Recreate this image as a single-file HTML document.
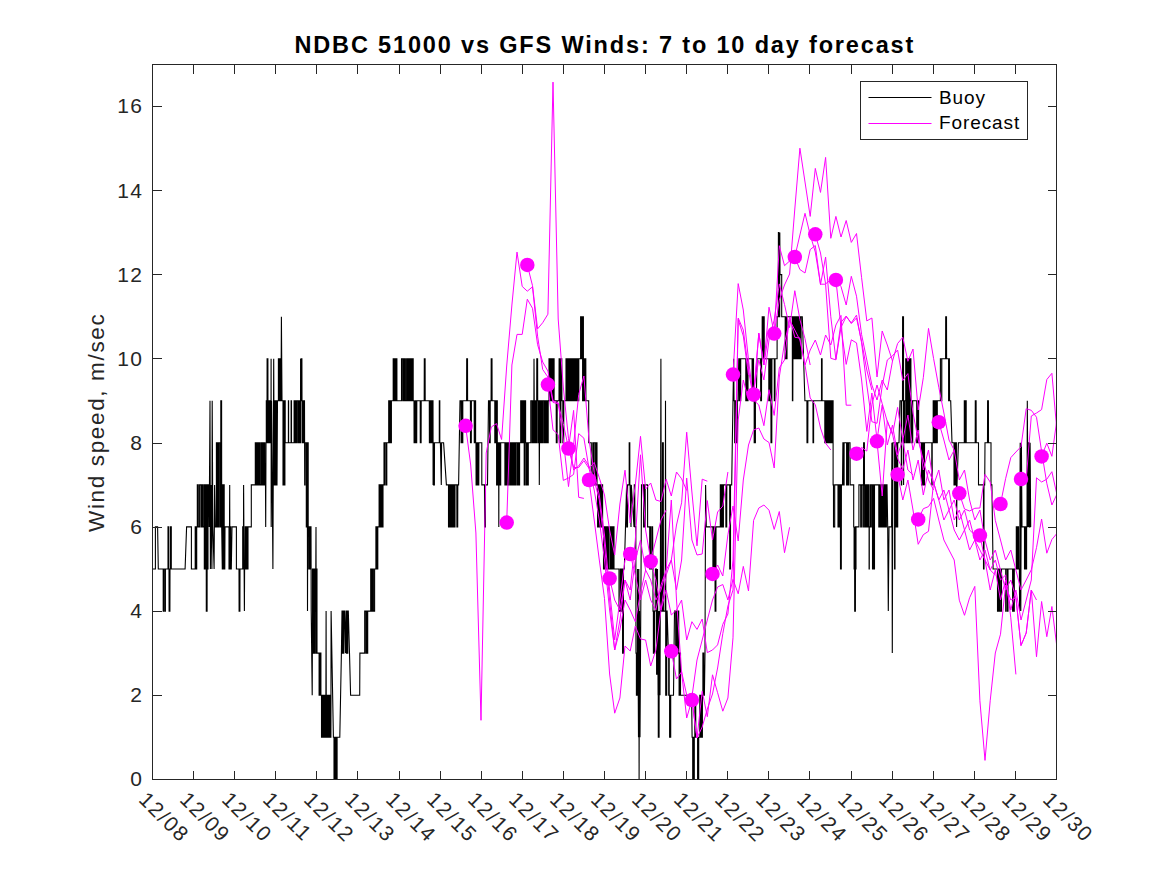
<!DOCTYPE html>
<html><head><meta charset="utf-8"><title>NDBC 51000 vs GFS Winds</title>
<style>
html,body{margin:0;padding:0;background:#fff;}
body{width:1167px;height:875px;overflow:hidden;position:relative;font-family:"Liberation Sans",sans-serif;color:#262626;}
svg{position:absolute;left:0;top:0;}
.t{position:absolute;white-space:nowrap;line-height:1;}
.title{font-weight:bold;font-size:23.5px;left:294.5px;top:34px;letter-spacing:1.84px;color:#000;}
.yt{font-size:21px;text-align:right;width:60px;left:83.3px;letter-spacing:1.3px;}
.xt{font-size:21px;transform-origin:0 50%;transform:rotate(45deg);letter-spacing:1.65px;}
.yl{font-size:22.5px;transform-origin:0 0;transform:rotate(-90deg);letter-spacing:1.65px;}
.lg{font-size:19px;letter-spacing:0.9px;color:#000;}
</style></head><body>

<svg width="1167" height="875" viewBox="0 0 1167 875">
<rect x="0" y="0" width="1167" height="875" fill="#fff"/>
<defs><clipPath id="c"><rect x="152.5" y="64.5" width="904.0" height="715.0"/></clipPath></defs>
<g clip-path="url(#c)" fill="none" stroke-linejoin="miter" stroke-miterlimit="3">
<polyline points="152.7,569.0 155.4,569.0 155.4,526.9 157.6,526.9 158.3,569.0 162.5,569.0 162.5,569.0 163.2,569.0 163.2,611.1 163.8,611.1 163.8,569.0 165.0,569.0 165.0,611.1 165.4,611.1 165.4,569.0 166.5,569.0 167.3,569.0 167.3,569.0 168.0,569.0 168.0,526.9 168.5,526.9 168.5,569.0 169.0,569.0 169.1,611.1 169.9,611.1 170.0,569.0 170.2,569.0 170.2,526.9 171.3,526.9 171.3,569.0 172.0,569.0 172.0,569.0 185.1,569.0 186.6,526.9 191.4,526.9 191.4,569.0 194.8,569.0 194.8,569.0 195.2,569.0 195.2,526.9 196.0,526.9 196.0,569.0 196.7,569.0 196.7,526.9 196.7,526.9 197.3,526.9 197.3,484.9 198.3,484.9 198.3,526.9 199.6,526.9 199.6,484.9 201.0,484.9 201.0,526.9 201.4,526.9 201.4,484.9 202.5,484.9 202.5,526.9 203.7,526.9 203.7,484.9 204.3,484.9 204.3,569.0 205.0,569.0 205.0,484.9 205.4,484.9 205.4,569.0 205.9,569.0 205.9,484.9 206.2,484.9 206.3,611.1 207.1,611.1 207.2,484.9 207.9,484.9 207.9,569.0 208.0,569.0 208.0,484.9 208.9,484.9 209.2,526.9 210.0,400.8 210.4,569.0 211.0,484.9 211.9,569.0 212.2,400.8 212.8,526.9 214.1,569.0 214.6,484.9 215.3,526.9 216.4,526.9 216.4,442.8 216.8,442.8 216.8,526.9 217.5,526.9 217.5,442.8 218.3,442.8 218.3,526.9 219.2,526.9 219.2,442.8 220.4,442.8 220.4,526.9 220.7,526.9 220.8,400.8 221.6,400.8 221.7,526.9 222.3,569.0 222.7,569.0 222.7,484.9 223.3,484.9 223.3,569.0 223.9,569.0 223.9,484.9 224.2,484.9 224.2,569.0 224.8,569.0 225.0,526.9 228.7,526.9 228.7,526.9 229.0,526.9 229.0,569.0 229.1,569.0 229.1,526.9 229.5,526.9 229.7,484.9 229.9,569.0 230.2,569.0 230.2,526.9 230.7,526.9 230.7,569.0 231.3,569.0 232.0,526.9 236.4,526.9 236.4,569.0 239.0,569.0 239.1,611.1 239.9,611.1 240.0,569.0 242.3,569.0 242.3,569.0 242.7,569.0 242.7,526.9 243.0,526.9 243.0,569.0 243.4,569.0 243.6,484.9 244.4,611.1 244.6,569.0 245.2,569.0 245.2,526.9 246.0,526.9 246.0,569.0 246.6,569.0 246.6,526.9 247.2,526.9 247.2,569.0 248.0,569.0 248.0,526.9 251.3,526.9 251.3,484.9 254.4,484.9 254.4,484.9 255.3,484.9 255.3,442.8 256.0,442.8 256.0,484.9 256.4,484.9 256.4,442.8 257.4,442.8 257.4,484.9 258.1,484.9 258.1,442.8 259.1,442.8 259.1,484.9 259.7,484.9 259.7,442.8 260.2,442.8 260.2,484.9 261.4,484.9 261.4,442.8 261.5,442.8 261.5,484.9 262.5,484.9 262.5,442.8 263.5,442.8 263.5,484.9 263.8,484.9 263.8,442.8 264.8,442.8 264.8,484.9 265.5,484.9 265.7,526.9 266.0,442.8 266.3,442.8 266.3,400.8 266.9,400.8 266.9,442.8 267.0,442.8 267.1,358.7 267.9,358.7 268.0,442.8 268.5,442.8 268.5,400.8 269.1,400.8 269.1,442.8 269.9,442.8 269.9,400.8 270.2,400.8 270.2,442.8 271.0,442.8 271.1,358.7 271.2,526.9 271.6,400.8 272.9,569.0 273.7,358.7 274.2,484.9 274.2,484.9 274.9,484.9 274.9,400.8 275.4,400.8 275.4,484.9 275.9,484.9 275.9,400.8 276.4,400.8 276.4,484.9 277.0,484.9 277.5,400.8 278.4,400.8 278.4,358.7 279.2,358.7 279.2,400.8 279.6,400.8 279.6,358.7 280.4,358.7 280.4,400.8 281.0,400.8 281.4,316.7 282.0,400.8 282.7,400.8 283.0,400.8 283.0,484.9 283.8,484.9 283.8,400.8 284.3,400.8 284.3,484.9 284.9,484.9 284.9,400.8 285.2,400.8 285.2,442.8 287.8,442.8 287.8,442.8 288.4,442.8 288.4,400.8 288.6,400.8 288.6,442.8 289.1,442.8 289.6,442.8 290.9,442.8 291.1,442.8 291.1,400.8 291.5,400.8 291.5,442.8 291.7,442.8 291.7,442.8 293.7,442.8 293.7,442.8 294.1,442.8 294.1,400.8 295.2,400.8 295.2,442.8 295.7,442.8 295.7,400.8 296.5,400.8 296.5,442.8 297.2,442.8 297.2,400.8 298.4,400.8 298.4,442.8 298.7,442.8 298.7,400.8 299.6,400.8 299.6,442.8 300.5,442.8 300.6,358.7 300.7,400.8 301.0,400.8 301.1,358.7 301.9,358.7 302.0,400.8 302.1,400.8 302.1,442.8 303.0,442.8 303.0,400.8 303.1,400.8 303.1,442.8 303.9,442.8 303.9,400.8 304.5,400.8 304.6,442.8 304.7,484.9 305.0,484.9 305.1,442.8 305.8,442.8 305.8,442.8 306.3,442.8 306.3,526.9 307.0,526.9 307.0,442.8 307.3,442.8 307.5,611.1 307.7,526.9 308.0,526.9 308.0,442.8 308.2,442.8 308.2,526.9 308.4,526.9 308.4,526.9 308.8,526.9 308.8,569.0 309.4,569.0 309.4,526.9 309.9,526.9 309.9,569.0 310.7,569.0 310.7,526.9 311.0,526.9 311.2,611.1 311.7,653.1 312.2,695.2 312.5,611.1 312.5,569.0 313.4,569.0 313.4,653.1 313.6,653.1 313.6,569.0 314.3,569.0 314.3,653.1 315.0,653.1 315.0,569.0 315.8,569.0 316.0,526.9 316.2,653.1 316.5,653.1 316.5,569.0 317.0,569.0 317.0,653.1 317.4,653.1 317.6,653.1 318.6,653.1 319.1,653.1 319.1,695.2 319.4,695.2 319.4,653.1 319.8,653.1 319.8,695.2 320.4,695.2 320.4,653.1 320.9,653.1 320.9,695.2 321.5,695.2 321.5,737.2 322.4,737.2 322.4,695.2 323.3,695.2 323.3,737.2 323.9,737.2 323.9,695.2 324.5,695.2 324.5,737.2 325.3,737.2 325.3,695.2 325.9,695.2 326.1,611.1 326.3,737.2 327.1,737.2 327.1,695.2 327.4,695.2 327.4,737.2 328.5,737.2 328.5,695.2 329.1,695.2 329.1,737.2 329.8,737.2 329.8,695.2 330.4,695.2 330.4,737.2 330.9,737.2 331.1,611.1 333.4,737.2 333.4,737.2 334.0,737.2 334.0,779.3 334.7,779.3 334.7,737.2 335.1,737.2 335.1,779.3 336.1,779.3 336.1,737.2 336.4,737.2 336.4,779.3 337.1,779.3 337.1,737.2 338.0,737.2 339.8,737.2 341.4,653.1 342.0,611.1 342.0,611.1 342.4,611.1 342.4,653.1 342.8,653.1 342.8,611.1 343.4,611.1 343.4,653.1 343.8,653.1 343.8,611.1 344.5,611.1 345.5,653.1 346.0,611.1 346.3,611.1 346.3,653.1 346.8,653.1 346.8,611.1 347.2,611.1 347.2,653.1 347.8,653.1 347.8,611.1 348.3,611.1 349.5,653.1 350.6,695.2 359.7,695.2 359.9,653.1 364.3,653.1 364.3,653.1 364.7,653.1 364.7,611.1 365.9,611.1 365.9,653.1 366.4,653.1 366.4,611.1 366.8,611.1 366.8,653.1 367.7,653.1 367.7,611.1 370.0,611.1 370.0,611.1 370.7,611.1 370.7,569.0 371.7,569.0 371.7,611.1 372.6,611.1 372.6,569.0 373.4,569.0 373.4,611.1 374.6,611.1 374.6,569.0 375.2,569.0 375.2,569.0 375.9,569.0 375.9,526.9 376.5,526.9 376.5,569.0 376.7,569.0 376.7,526.9 377.3,526.9 377.3,569.0 377.8,569.0 377.8,526.9 378.5,526.9 378.5,526.9 379.1,526.9 379.1,484.9 380.0,484.9 380.0,526.9 381.1,526.9 381.1,484.9 381.9,484.9 381.9,526.9 383.0,526.9 383.0,484.9 383.0,484.9 384.0,484.9 384.0,442.8 384.3,442.8 384.3,484.9 385.0,484.9 385.0,442.8 386.3,442.8 386.3,484.9 386.8,484.9 386.8,442.8 388.0,442.8 388.0,442.8 388.7,442.8 388.7,400.8 389.1,400.8 389.1,442.8 390.1,442.8 390.1,400.8 390.4,400.8 390.4,442.8 391.4,442.8 391.4,400.8 392.4,400.8 392.4,400.8 393.2,400.8 393.2,358.7 394.3,358.7 394.3,400.8 395.0,400.8 395.0,358.7 395.6,358.7 395.6,400.8 396.1,400.8 396.1,358.7 396.9,358.7 396.9,400.8 397.8,400.8 397.8,400.8 400.9,400.8 400.9,400.8 401.5,400.8 401.5,358.7 402.7,358.7 402.7,400.8 403.3,400.8 403.3,358.7 404.3,358.7 404.3,400.8 404.7,400.8 404.7,358.7 405.4,358.7 405.4,400.8 406.6,400.8 406.6,358.7 407.5,358.7 407.5,400.8 408.2,400.8 408.2,358.7 409.0,358.7 409.0,400.8 409.8,400.8 409.8,358.7 410.5,358.7 410.5,400.8 411.0,400.8 411.0,358.7 411.9,358.7 411.9,400.8 412.6,400.8 412.6,358.7 413.2,358.7 413.2,400.8 414.3,400.8 414.3,400.8 414.0,400.8 414.1,442.8 414.9,442.8 415.0,400.8 415.8,400.8 415.9,442.8 416.7,442.8 416.8,400.8 420.2,400.8 420.3,442.8 421.1,442.8 421.2,400.8 424.2,400.8 424.3,358.7 425.1,358.7 425.2,400.8 429.3,400.8 429.4,442.8 430.2,442.8 430.3,400.8 431.2,400.8 431.3,442.8 432.1,442.8 432.2,400.8 433.0,400.8 433.1,484.9 433.2,442.8 433.5,442.8 433.6,484.9 434.4,484.9 434.5,442.8 439.0,442.8 439.0,442.8 439.3,442.8 439.3,400.8 439.8,400.8 439.8,442.8 440.4,442.8 441.3,484.9 441.6,442.8 443.6,442.8 446.4,484.9 448.0,484.9 448.0,484.9 448.5,484.9 448.5,526.9 449.3,526.9 449.3,484.9 450.0,484.9 450.0,526.9 450.4,526.9 450.4,484.9 451.2,484.9 451.2,526.9 451.9,526.9 451.9,484.9 452.4,484.9 452.4,526.9 452.7,526.9 452.7,484.9 453.2,484.9 453.2,526.9 453.9,526.9 453.9,484.9 454.4,484.9 454.4,526.9 455.0,526.9 455.0,484.9 455.8,484.9 456.8,484.9 456.9,526.9 457.7,526.9 457.8,484.9 458.6,484.9 459.3,442.8 460.0,400.8 460.5,400.8 461.1,400.8 461.1,442.8 461.9,442.8 461.9,400.8 462.4,400.8 462.4,442.8 462.8,442.8 462.8,400.8 463.4,400.8 466.6,400.8 466.7,358.7 467.5,358.7 467.6,400.8 470.4,400.8 470.5,442.8 471.3,442.8 471.4,400.8 474.2,400.8 474.3,442.8 475.1,442.8 475.2,400.8 475.6,400.8 475.6,442.8 476.0,442.8 476.1,484.9 476.9,484.9 477.0,442.8 477.9,442.8 478.0,484.9 478.8,484.9 478.9,442.8 481.8,442.8 481.8,484.9 484.5,484.9 484.6,526.9 485.4,526.9 485.5,484.9 487.5,484.9 488.0,442.8 488.5,400.8 488.8,400.8 489.5,400.8 489.5,442.8 490.2,442.8 490.2,400.8 490.7,400.8 491.1,400.8 491.2,358.7 492.0,358.7 492.1,400.8 494.5,400.8 494.5,400.8 494.8,400.8 494.8,442.8 495.6,442.8 495.6,400.8 496.0,400.8 496.0,400.8 496.6,400.8 496.6,484.9 497.0,484.9 497.0,400.8 497.3,400.8 497.3,442.8 497.3,442.8 497.8,442.8 497.8,484.9 498.1,484.9 498.1,442.8 498.5,442.8 498.6,442.8 498.8,526.9 499.0,442.8 499.0,442.8 499.3,442.8 499.3,484.9 499.9,484.9 499.9,442.8 500.1,442.8 500.1,484.9 500.7,484.9 500.7,442.8 501.0,442.8 503.9,442.8 503.9,442.8 504.9,442.8 504.9,484.9 505.2,484.9 505.2,442.8 505.9,442.8 505.9,484.9 507.0,484.9 507.0,442.8 507.5,442.8 507.5,484.9 507.9,484.9 507.9,442.8 508.6,442.8 508.6,484.9 509.3,484.9 509.3,442.8 510.5,442.8 510.5,484.9 511.1,484.9 511.1,442.8 511.4,442.8 511.4,484.9 512.5,484.9 512.5,442.8 513.3,442.8 513.3,484.9 513.8,484.9 513.8,442.8 514.3,442.8 514.3,484.9 515.1,484.9 515.1,442.8 515.6,442.8 515.6,484.9 516.2,484.9 516.2,442.8 517.5,442.8 517.5,484.9 518.0,484.9 518.0,442.8 518.6,442.8 518.6,484.9 519.6,484.9 519.6,442.8 520.0,442.8 520.0,442.8 520.7,442.8 520.7,400.8 521.7,400.8 521.7,442.8 522.4,442.8 522.4,400.8 522.8,400.8 522.8,442.8 523.7,442.8 523.7,400.8 524.2,400.8 524.2,484.9 524.8,484.9 524.8,400.8 525.6,400.8 525.6,442.8 526.1,442.8 526.1,484.9 527.0,484.9 527.0,442.8 527.5,442.8 527.5,484.9 528.3,484.9 528.3,442.8 529.0,442.8 530.3,442.8 530.3,442.8 530.8,442.8 530.8,400.8 532.0,400.8 532.0,442.8 532.3,442.8 532.3,400.8 533.1,400.8 533.1,442.8 533.8,442.8 534.0,358.7 534.2,400.8 534.8,400.8 534.8,442.8 535.5,442.8 535.5,400.8 535.8,400.8 535.8,442.8 536.7,442.8 536.7,400.8 536.7,400.8 536.8,358.7 537.6,358.7 537.7,400.8 538.0,400.8 538.0,442.8 538.5,442.8 538.5,400.8 539.1,400.8 539.3,484.9 539.5,442.8 540.2,442.8 540.2,400.8 540.5,400.8 540.5,442.8 541.5,442.8 541.5,400.8 542.0,400.8 542.0,442.8 542.5,442.8 542.5,400.8 543.7,400.8 543.7,442.8 544.0,442.8 544.0,400.8 544.8,400.8 544.8,442.8 545.7,442.8 545.7,400.8 546.2,400.8 546.2,442.8 546.8,442.8 546.8,400.8 547.5,400.8 547.5,442.8 548.2,442.8 548.2,400.8 549.0,400.8 549.0,358.7 549.9,358.7 549.9,400.8 550.1,400.8 550.1,358.7 551.2,358.7 551.2,400.8 551.7,400.8 551.7,358.7 552.5,358.7 552.5,400.8 553.5,400.8 553.5,358.7 554.1,358.7 554.1,400.8 554.8,400.8 554.8,400.8 556.2,400.8 556.3,442.8 557.1,442.8 557.2,400.8 559.0,400.8 559.1,358.7 559.9,358.7 560.0,400.8 559.9,400.8 560.0,442.8 560.8,442.8 560.9,400.8 560.9,400.8 561.0,358.7 561.8,358.7 561.9,400.8 562.8,400.8 562.9,442.8 563.7,442.8 563.8,400.8 566.0,400.8 566.0,358.7 566.5,358.7 566.5,400.8 567.1,400.8 567.1,358.7 567.6,358.7 567.6,400.8 567.9,400.8 567.9,358.7 568.4,358.7 568.4,400.8 568.8,400.8 568.8,358.7 569.3,358.7 569.7,358.7 569.8,400.8 570.6,400.8 570.7,358.7 571.0,358.7 571.5,358.7 571.5,400.8 572.1,400.8 572.1,358.7 572.4,358.7 572.4,400.8 573.0,400.8 573.0,358.7 573.4,358.7 573.4,400.8 574.1,400.8 574.1,358.7 574.5,358.7 574.5,400.8 575.1,400.8 575.1,358.7 575.6,358.7 575.6,400.8 575.8,400.8 575.8,358.7 576.4,358.7 576.4,400.8 577.1,400.8 577.1,358.7 577.5,358.7 577.5,400.8 577.7,400.8 577.7,358.7 578.2,358.7 578.2,400.8 578.8,400.8 578.8,358.7 579.3,358.7 580.3,358.7 580.3,358.7 580.6,358.7 580.6,316.7 581.2,316.7 581.2,358.7 581.6,358.7 581.6,316.7 582.3,316.7 582.3,358.7 582.9,358.7 582.9,316.7 583.4,316.7 583.4,358.7 583.7,358.7 582.2,358.7 582.6,358.7 582.6,400.8 583.3,400.8 583.3,358.7 583.8,358.7 583.8,400.8 584.1,400.8 584.1,358.7 584.9,358.7 584.9,400.8 585.5,400.8 585.5,358.7 585.8,358.7 585.9,400.8 588.7,400.8 588.7,442.8 590.6,442.8 590.6,442.8 591.3,442.8 591.3,484.9 592.8,484.9 592.8,442.8 593.3,442.8 593.3,484.9 594.2,484.9 594.2,442.8 595.6,442.8 595.6,484.9 596.4,484.9 596.4,442.8 597.0,442.8 597.0,484.9 597.6,484.9 597.6,526.9 598.6,526.9 598.6,484.9 599.4,484.9 599.4,526.9 600.1,526.9 600.1,484.9 600.8,484.9 600.8,526.9 601.7,526.9 601.7,484.9 602.6,484.9 602.6,526.9 603.5,526.9 603.5,569.0 603.8,569.0 603.8,526.9 604.9,526.9 604.9,569.0 605.6,569.0 605.6,526.9 606.1,526.9 606.1,569.0 607.0,569.0 607.0,526.9 608.0,526.9 608.0,569.0 608.7,569.0 608.7,526.9 609.1,526.9 609.1,569.0 610.5,569.0 610.5,526.9 611.2,526.9 611.2,569.0 612.0,569.0 612.0,526.9 612.2,526.9 612.2,569.0 613.1,569.0 613.1,526.9 614.0,526.9 614.0,569.0 618.6,569.0 618.6,569.0 619.0,569.0 619.0,611.1 620.3,611.1 620.3,569.0 620.7,569.0 620.7,611.1 621.4,611.1 621.4,569.0 622.5,569.0 622.6,653.1 623.4,653.1 623.5,569.0 624.3,569.0 625.5,526.9 626.6,484.9 626.7,526.9 627.5,526.9 627.6,484.9 628.8,484.9 629.2,484.9 629.2,442.8 629.8,442.8 629.8,484.9 630.1,484.9 631.0,526.9 631.3,484.9 634.0,526.9 634.3,484.9 634.7,484.9 635.0,526.9 635.8,526.9 636.0,653.1 636.0,653.1 636.4,653.1 636.4,695.2 636.5,695.2 636.5,653.1 636.8,653.1 636.8,695.2 637.2,695.2 637.2,653.1 637.4,653.1 637.6,569.0 638.5,737.2 638.8,569.0 639.1,779.3 639.5,611.1 640.0,737.2 641.3,526.9 641.5,484.9 643.0,484.9 643.6,484.9 643.6,526.9 644.3,526.9 644.3,484.9 644.6,484.9 644.6,526.9 645.2,526.9 645.2,484.9 646.0,484.9 647.6,484.9 647.6,526.9 648.8,526.9 648.8,526.9 649.7,526.9 649.7,569.0 650.3,569.0 650.3,526.9 650.8,526.9 650.8,569.0 652.1,569.0 652.1,526.9 652.6,526.9 653.0,569.0 653.0,611.1 653.0,611.1 653.4,611.1 653.4,653.1 653.9,653.1 653.9,611.1 654.1,611.1 654.1,653.1 654.7,653.1 654.7,611.1 655.0,611.1 655.2,611.1 655.4,569.0 656.5,569.0 656.6,674.2 657.4,674.2 657.5,569.0 658.1,695.2 658.2,611.1 658.3,737.2 659.1,737.2 659.2,611.1 660.0,695.2 660.4,569.0 660.9,358.7 661.4,611.1 662.4,611.1 662.5,442.8 663.3,442.8 663.4,611.1 665.2,611.1 665.5,400.8 665.8,611.1 665.3,611.1 665.7,611.1 665.7,695.2 666.7,695.2 666.7,611.1 667.1,611.1 668.4,653.1 668.4,653.1 668.7,653.1 668.7,695.2 668.9,695.2 668.9,653.1 669.2,653.1 669.2,695.2 669.6,695.2 669.6,737.2 670.2,737.2 670.2,695.2 670.4,695.2 670.4,737.2 670.7,737.2 670.7,695.2 671.3,695.2 672.3,695.2 673.5,695.2 674.5,611.1 674.9,611.1 675.7,611.1 675.7,653.1 676.2,653.1 676.2,611.1 676.9,611.1 676.9,653.1 677.7,653.1 677.7,611.1 678.7,611.1 678.7,653.1 678.7,653.1 679.1,653.1 679.1,695.2 679.7,695.2 679.7,653.1 680.5,653.1 680.5,695.2 691.6,695.2 692.1,737.2 692.3,737.2 692.7,737.2 692.7,779.3 693.2,779.3 693.2,737.2 694.0,737.2 694.0,779.3 694.3,779.3 694.3,737.2 694.8,737.2 694.9,695.2 695.7,695.2 695.8,737.2 697.2,737.2 697.6,737.2 697.6,779.3 697.9,779.3 697.9,737.2 698.4,737.2 698.4,779.3 698.7,779.3 698.7,737.2 699.3,737.2 699.3,737.2 699.8,737.2 699.8,695.2 700.3,695.2 700.3,737.2 701.3,737.2 701.3,695.2 701.8,695.2 701.8,737.2 702.4,737.2 702.4,695.2 702.4,695.2 702.9,695.2 702.9,653.1 703.7,653.1 703.7,695.2 704.4,695.2 705.0,653.1 705.6,484.9 706.3,526.9 712.0,526.9 712.0,526.9 712.9,526.9 712.9,569.0 713.1,569.0 713.1,526.9 714.2,526.9 714.2,569.0 714.6,569.0 714.6,526.9 715.0,526.9 715.1,611.1 715.9,611.1 716.0,526.9 719.5,526.9 719.5,526.9 720.3,526.9 720.3,484.9 721.3,484.9 721.3,526.9 721.8,526.9 721.8,484.9 722.6,484.9 722.6,526.9 723.4,526.9 723.4,484.9 725.8,484.9 725.9,526.9 726.7,526.9 726.8,484.9 729.0,484.9 729.0,484.9 729.7,484.9 729.7,569.0 730.5,569.0 730.5,484.9 730.8,484.9 731.7,484.9 732.3,442.8 733.0,400.8 733.7,358.7 734.0,400.8 734.7,400.8 734.7,442.8 735.8,442.8 735.8,400.8 736.5,400.8 736.5,442.8 737.3,442.8 737.3,400.8 738.0,400.8 738.0,400.8 738.8,358.7 739.3,358.7 739.3,400.8 739.8,400.8 739.8,358.7 740.2,358.7 740.2,400.8 740.7,400.8 740.7,358.7 741.4,358.7 743.0,358.7 745.3,358.7 745.8,358.7 745.8,400.8 746.9,400.8 746.9,358.7 747.4,358.7 747.4,400.8 748.0,400.8 748.0,358.7 749.0,358.7 751.7,358.7 751.7,358.7 752.1,358.7 752.1,400.8 753.1,400.8 753.1,358.7 753.5,358.7 753.5,400.8 754.2,400.8 754.2,442.8 754.6,442.8 754.6,400.8 754.9,400.8 754.9,442.8 755.4,442.8 755.4,400.8 756.0,400.8 756.3,400.8 757.0,358.7 760.6,358.7 760.7,400.8 761.5,400.8 761.6,358.7 762.1,358.7 762.2,316.7 763.0,316.7 763.3,358.7 763.4,316.7 764.2,316.7 764.3,358.7 768.4,358.7 768.4,358.7 768.8,358.7 768.8,400.8 769.4,400.8 769.4,358.7 769.8,358.7 769.8,400.8 770.5,400.8 770.5,358.7 770.9,358.7 771.0,442.8 771.8,442.8 771.9,358.7 774.0,358.7 774.3,358.7 774.3,400.8 775.0,400.8 775.0,358.7 775.3,358.7 777.1,358.7 777.1,316.7 778.3,316.7 778.4,232.5 778.8,232.5 778.9,316.7 779.7,316.7 779.8,232.5 780.0,274.6 781.7,274.6 781.7,316.7 784.3,316.7 784.3,316.7 785.2,316.7 785.2,358.7 785.6,358.7 785.6,316.7 786.0,316.7 786.0,358.7 787.0,358.7 787.0,316.7 787.4,316.7 792.3,316.7 792.4,400.8 792.8,400.8 793.0,316.7 793.0,316.7 793.6,316.7 793.6,358.7 794.3,358.7 794.3,316.7 794.7,316.7 794.7,358.7 795.6,358.7 795.6,316.7 796.4,316.7 796.4,358.7 797.1,358.7 797.1,316.7 797.6,316.7 797.6,358.7 798.4,358.7 798.4,316.7 798.8,316.7 798.8,358.7 799.6,358.7 799.6,316.7 800.2,316.7 800.2,358.7 801.1,358.7 801.1,316.7 801.8,316.7 802.3,316.7 804.9,400.8 806.9,400.8 807.0,442.8 807.8,442.8 807.9,400.8 812.6,400.8 812.6,400.8 813.0,400.8 813.0,442.8 813.6,442.8 813.6,400.8 814.6,400.8 821.0,400.8 821.0,400.8 821.5,400.8 821.5,358.7 822.1,358.7 822.1,400.8 822.9,400.8 824.1,400.8 824.1,400.8 824.8,400.8 824.8,442.8 825.5,442.8 825.5,400.8 826.3,400.8 826.3,442.8 827.0,442.8 827.0,400.8 827.7,400.8 827.7,442.8 828.5,442.8 828.5,400.8 828.9,400.8 828.9,442.8 829.5,442.8 829.5,400.8 830.6,400.8 830.6,442.8 830.8,442.8 830.8,400.8 831.9,400.8 831.9,442.8 832.5,442.8 832.5,400.8 833.1,400.8 833.1,442.8 833.1,484.9 833.1,484.9 833.5,484.9 833.5,526.9 834.7,526.9 834.7,484.9 835.2,484.9 837.0,484.9 837.0,484.9 838.0,484.9 838.0,526.9 838.6,526.9 838.6,484.9 839.4,484.9 839.4,526.9 840.2,526.9 840.2,484.9 840.4,484.9 840.5,569.0 841.3,569.0 841.4,484.9 842.5,484.9 842.9,442.8 842.9,442.8 843.3,442.8 843.3,484.9 844.1,484.9 844.1,442.8 844.7,442.8 845.3,442.8 846.0,442.8 846.6,442.8 846.6,484.9 847.4,484.9 847.4,442.8 848.0,442.8 848.0,484.9 848.6,484.9 848.6,442.8 849.0,442.8 850.0,442.8 850.2,484.9 853.7,484.9 853.7,526.9 854.1,526.9 854.1,569.0 854.6,569.0 854.6,526.9 854.6,526.9 854.7,611.1 855.4,611.1 855.5,526.9 855.6,526.9 855.6,569.0 856.0,569.0 856.0,526.9 856.3,526.9 856.5,526.9 858.9,526.9 858.9,484.9 860.0,484.9 860.7,484.9 860.7,526.9 861.4,526.9 861.4,484.9 862.7,484.9 862.7,484.9 862.9,484.9 862.9,526.9 863.4,526.9 863.4,484.9 863.5,484.9 863.6,442.8 864.4,442.8 864.5,484.9 864.6,484.9 864.6,526.9 865.6,526.9 865.6,484.9 866.1,484.9 866.1,526.9 866.8,526.9 866.8,484.9 867.4,484.9 867.4,526.9 868.1,526.9 868.1,484.9 868.6,484.9 868.6,526.9 869.1,526.9 869.1,569.0 869.3,569.0 869.3,526.9 870.0,526.9 870.0,484.9 870.7,484.9 870.7,526.9 871.3,526.9 871.3,484.9 871.7,484.9 871.7,484.9 872.5,484.9 872.5,569.0 873.3,569.0 873.3,484.9 874.2,484.9 874.2,569.0 874.5,569.0 874.5,484.9 875.6,484.9 878.0,484.9 878.0,484.9 878.8,484.9 878.8,526.9 879.2,526.9 879.2,484.9 879.8,484.9 879.8,526.9 880.6,526.9 880.6,484.9 881.6,484.9 881.6,526.9 882.0,526.9 882.0,484.9 883.0,484.9 883.0,526.9 883.8,526.9 883.8,484.9 884.2,484.9 884.2,526.9 884.8,526.9 884.8,484.9 885.6,484.9 885.6,526.9 886.4,526.9 886.4,484.9 887.0,484.9 887.7,526.9 888.3,611.1 889.0,526.9 891.6,526.9 891.9,442.8 892.3,653.1 892.9,442.8 894.0,442.8 894.6,442.8 894.6,569.0 895.0,569.0 895.0,442.8 895.4,442.8 895.4,442.8 896.1,442.8 896.1,526.9 896.4,526.9 896.4,442.8 897.1,442.8 897.1,526.9 897.7,526.9 897.7,442.8 898.5,442.8 899.0,442.8 900.0,400.8 900.6,400.8 901.3,400.8 901.3,484.9 901.7,484.9 901.7,400.8 902.4,400.8 902.5,400.8 902.6,316.7 903.5,316.7 903.6,484.9 903.8,400.8 904.5,400.8 904.5,442.8 904.8,442.8 904.8,400.8 905.7,400.8 905.7,358.7 906.1,358.7 906.1,442.8 907.0,442.8 907.0,358.7 908.0,358.7 908.0,442.8 908.8,442.8 908.8,358.7 909.5,358.7 909.5,442.8 910.0,442.8 910.0,358.7 910.9,358.7 910.9,400.8 911.4,400.8 911.4,442.8 911.9,442.8 911.9,400.8 912.4,400.8 912.4,442.8 912.7,442.8 912.7,400.8 913.4,400.8 914.0,400.8 916.0,400.8 916.0,400.8 916.7,400.8 916.7,442.8 916.9,442.8 916.9,400.8 917.8,400.8 917.8,442.8 918.3,442.8 918.3,400.8 918.6,400.8 918.6,442.8 921.0,442.8 921.0,442.8 921.5,442.8 921.5,484.9 922.6,484.9 922.6,442.8 923.6,442.8 923.6,484.9 924.5,484.9 924.5,442.8 925.0,442.8 925.0,442.8 931.4,442.8 931.4,442.8 931.8,442.8 931.8,484.9 932.2,484.9 932.2,442.8 932.7,442.8 933.2,442.8 933.2,400.8 933.5,400.8 934.0,400.8 934.0,442.8 935.0,442.8 935.0,400.8 935.2,400.8 935.2,442.8 936.1,442.8 936.1,400.8 936.4,400.8 936.4,442.8 937.3,442.8 937.3,400.8 937.9,400.8 937.9,400.8 940.4,400.8 940.4,358.7 941.0,358.7 941.7,358.7 941.7,400.8 941.8,400.8 941.8,358.7 942.5,358.7 945.6,358.7 945.7,316.7 946.5,316.7 946.6,358.7 948.0,358.7 948.6,358.7 948.6,400.8 948.9,400.8 948.9,358.7 949.4,358.7 949.4,358.7 949.6,400.8 950.7,400.8 952.0,442.8 953.3,442.8 953.3,442.8 954.0,442.8 954.0,484.9 954.4,484.9 954.4,442.8 954.7,442.8 954.7,484.9 955.6,484.9 955.6,442.8 955.9,442.8 956.4,442.8 956.6,526.9 957.0,484.9 958.4,442.8 963.6,442.8 963.6,442.8 964.3,442.8 964.3,400.8 964.6,400.8 964.6,442.8 965.3,442.8 965.3,400.8 966.2,400.8 966.2,442.8 966.9,442.8 975.2,442.8 975.3,400.8 976.1,400.8 976.2,442.8 978.5,442.8 978.5,484.9 982.9,484.9 982.9,484.9 983.5,484.9 983.5,569.0 984.0,569.0 984.0,484.9 984.7,484.9 984.7,484.9 985.0,442.8 987.5,442.8 987.6,400.8 988.4,400.8 988.5,442.8 991.0,442.8 991.0,484.9 991.9,484.9 993.1,569.0 997.0,569.0 997.0,569.0 997.5,569.0 997.5,611.1 998.4,611.1 998.4,569.0 999.1,569.0 999.1,611.1 1000.1,611.1 1000.1,569.0 1000.3,569.0 1000.3,611.1 1001.5,611.1 1001.5,569.0 1002.1,569.0 1004.7,569.0 1004.7,569.0 1005.7,569.0 1005.7,611.1 1006.0,611.1 1006.0,569.0 1007.3,569.0 1007.3,611.1 1008.0,611.1 1008.0,569.0 1008.6,569.0 1011.7,569.0 1011.7,569.0 1012.6,569.0 1012.6,611.1 1012.9,611.1 1012.9,569.0 1013.6,569.0 1013.6,611.1 1014.3,611.1 1014.3,569.0 1015.0,569.0 1015.0,569.0 1015.0,569.0 1016.3,569.0 1016.3,526.9 1016.8,526.9 1016.8,569.0 1017.5,569.0 1017.5,526.9 1018.5,526.9 1018.5,569.0 1019.4,569.0 1019.6,611.1 1020.2,442.8 1020.8,611.1 1021.4,442.8 1022.0,526.9 1024.0,526.9 1024.0,526.9 1024.5,526.9 1024.5,569.0 1025.0,569.0 1025.0,526.9 1025.6,526.9 1025.6,569.0 1026.6,569.0 1026.6,526.9 1027.0,526.9 1027.3,400.8 1028.1,526.9 1028.5,442.8 1029.1,442.8 1029.2,526.9 1030.0,526.9 1030.1,442.8 1030.7,526.9" stroke="#000" stroke-width="1.1"/>
<polyline points="465.6,425.8 470.7,465.0 475.9,533.0 481.0,720.3 486.2,453.0 491.3,427.0 496.5,423.6 501.6,439.5 506.7,366.0 511.9,305.0 517.0,252.1 522.2,286.4 527.3,291.2 532.5,286.8 537.6,336.2 542.7,369.5 547.9,377.0 553.0,402.4 558.2,403.8 563.3,423.6 568.5,448.3 573.6,410.4 578.7,497.3 583.9,498.4" stroke="#f0f" stroke-width="1.0"/>
<polyline points="506.7,522.6 511.9,365.0 517.0,334.4 522.2,334.4 527.3,299.2 532.5,308.3 537.6,344.7 542.7,362.0 547.9,371.0 553.0,400.7 558.2,402.7 563.3,440.0 568.5,486.6 573.6,445.0 578.7,394.5 583.9,376.0 589.0,440.1 594.2,472.7 599.3,495.0 604.5,535.0 609.6,590.0 614.7,640.0 619.9,600.0 625.0,560.0" stroke="#f0f" stroke-width="1.0"/>
<polyline points="527.3,264.9 532.5,285.7 537.6,328.9 542.7,322.7 547.9,314.2 553.0,82.1 558.2,319.0 563.3,387.0 568.5,438.7 573.6,470.0 578.7,466.0 583.9,458.0 589.0,466.0 594.2,480.0 599.3,500.0 604.5,545.0 609.6,600.0 614.7,650.0 619.9,630.0 625.0,600.0 630.2,610.0 635.3,621.7 640.5,593.0 645.6,570.0" stroke="#f0f" stroke-width="1.0"/>
<polyline points="547.9,384.6 553.0,429.8 558.2,434.6 563.3,480.4 568.5,478.0 573.6,474.4 578.7,433.6 583.9,438.2 589.0,468.4 594.2,490.0 599.3,520.0 604.5,560.0 609.6,610.0 614.7,650.0 619.9,620.0 625.0,580.0 630.2,590.0 635.3,540.0 640.5,454.8 645.6,530.0 650.7,560.0 655.9,540.0 661.0,520.0 666.2,510.0" stroke="#f0f" stroke-width="1.0"/>
<polyline points="568.5,448.5 573.6,467.5 578.7,467.5 583.9,460.7 589.0,468.4 594.2,462.4 599.3,477.8 604.5,495.0 609.6,530.0 614.7,555.0 619.9,504.0 625.0,470.2 630.2,523.0 635.3,485.0 640.5,436.3 645.6,489.0 650.7,483.0 655.9,500.0 661.0,501.5 666.2,479.2 671.3,496.0 676.5,472.0 681.6,478.8 686.7,490.5" stroke="#f0f" stroke-width="1.0"/>
<polyline points="589.0,480.0 594.2,520.0 599.3,560.0 604.5,598.6 609.6,674.0 614.7,713.2 619.9,698.0 625.0,646.0 630.2,651.0 635.3,626.0 640.5,639.0 645.6,640.0 650.7,666.0 655.9,650.0 661.0,610.0 666.2,575.0 671.3,560.0 676.5,525.0 681.6,502.8 686.7,432.2 691.9,492.0 697.0,545.8 702.2,479.2 707.3,481.2" stroke="#f0f" stroke-width="1.0"/>
<polyline points="609.6,578.5 614.7,600.0 619.9,610.0 625.0,580.0 630.2,600.0 635.3,560.0 640.5,540.0 645.6,570.0 650.7,580.0 655.9,600.0 661.0,590.0 666.2,570.0 671.3,560.0 676.5,590.0 681.6,560.0 686.7,478.1 691.9,540.0 697.0,555.0 702.2,554.0 707.3,500.6 712.5,540.0 717.6,512.0 722.8,506.0 727.9,472.0" stroke="#f0f" stroke-width="1.0"/>
<polyline points="630.2,554.0 635.3,575.0 640.5,600.0 645.6,580.0 650.7,600.0 655.9,610.0 661.0,585.0 666.2,570.0 671.3,500.0 676.5,600.0 681.6,672.0 686.7,718.0 691.9,700.0 697.0,738.0 702.2,727.0 707.3,709.0 712.5,694.0 717.6,668.0 722.8,633.7 727.9,606.0 733.0,590.0 738.2,319.5 743.3,336.0 748.5,375.0" stroke="#f0f" stroke-width="1.0"/>
<polyline points="650.7,561.5 655.9,580.0 661.0,610.0 666.2,590.0 671.3,615.0 676.5,610.0 681.6,600.0 686.7,640.0 691.9,621.7 697.0,629.4 702.2,619.0 707.3,652.6 712.5,650.0 717.6,644.9 722.8,624.3 727.9,614.0 733.0,560.0 738.2,318.0 743.3,330.0 748.5,370.0 753.6,400.0 758.8,333.2 763.9,365.0 769.0,330.0" stroke="#f0f" stroke-width="1.0"/>
<polyline points="671.3,651.3 676.5,679.0 681.6,671.8 686.7,695.0 691.9,697.0 697.0,660.0 702.2,640.0 707.3,620.0 712.5,600.0 717.6,587.0 722.8,584.5 727.9,600.0 733.0,579.4 738.2,593.8 743.3,566.4 748.5,591.0 753.6,520.4 758.8,508.0 763.9,505.0 769.0,510.2 774.2,529.4 779.3,511.5 784.5,552.7 789.6,527.3" stroke="#f0f" stroke-width="1.0"/>
<polyline points="691.9,700.1 697.0,737.9 702.2,691.3 707.3,716.7 712.5,674.8 717.6,692.7 722.8,711.2 727.9,698.0 733.0,637.8 738.2,420.0 743.3,380.0 748.5,400.0 753.6,390.0 758.8,360.0 763.9,380.0 769.0,340.0 774.2,320.0 779.3,283.9 784.5,304.4 789.6,327.7 794.8,290.7 799.9,319.5 805.0,338.7 810.2,365.0" stroke="#f0f" stroke-width="1.0"/>
<polyline points="712.5,573.9 717.6,565.0 722.8,576.0 727.9,534.8 733.0,506.0 738.2,541.0 743.3,480.0 748.5,445.0 753.6,430.0 758.8,428.0 763.9,439.0 769.0,442.5 774.2,468.0 779.3,377.0 784.5,343.0 789.6,320.0 794.8,330.0 799.9,340.0 805.0,365.0 810.2,398.0 815.3,404.8 820.5,428.0 825.6,443.2 830.8,450.0" stroke="#f0f" stroke-width="1.0"/>
<polyline points="733.0,374.6 738.2,283.6 743.3,310.0 748.5,360.0 753.6,400.0 758.8,405.0 763.9,425.7 769.0,389.7 774.2,415.4 779.3,367.9 784.5,360.0 789.6,316.8 794.8,337.3 799.9,338.0 805.0,365.0 810.2,350.0 815.3,340.0 820.5,355.0 825.6,335.0 830.8,345.0 835.9,325.0 841.0,315.4 846.2,405.2 851.3,405.2" stroke="#f0f" stroke-width="1.0"/>
<polyline points="753.6,394.5 758.8,333.2 763.9,365.0 769.0,307.2 774.2,333.6 779.3,245.7 784.5,265.7 789.6,261.0 794.8,257.0 799.9,269.5 805.0,273.0 810.2,249.6 815.3,245.5 820.5,284.6 825.6,257.0 830.8,316.8 835.9,359.3 841.0,322.3 846.2,316.0 851.3,323.6 856.5,318.0 861.6,341.5 866.8,370.0 871.9,390.0" stroke="#f0f" stroke-width="1.0"/>
<polyline points="774.2,333.6 779.3,300.0 784.5,285.0 789.6,274.0 794.8,209.0 799.9,148.2 805.0,182.0 810.2,216.4 815.3,168.4 820.5,192.4 825.6,157.4 830.8,238.3 835.9,216.4 841.0,237.0 846.2,220.5 851.3,242.4 856.5,233.5 861.6,277.7 866.8,320.9 871.9,318.0 877.0,377.0 882.2,331.0 887.3,345.0 892.5,361.0" stroke="#f0f" stroke-width="1.0"/>
<polyline points="794.8,257.0 799.9,235.0 805.0,213.3 810.2,235.0 815.3,252.0 820.5,284.2 825.6,284.2 830.8,358.3 835.9,359.8 841.0,327.4 846.2,364.4 851.3,339.8 856.5,342.9 861.6,380.0 866.8,431.4 871.9,393.0 877.0,440.0 882.2,405.0 887.3,445.0 892.5,425.0 897.6,455.0 902.8,440.0 907.9,470.0 913.0,475.0" stroke="#f0f" stroke-width="1.0"/>
<polyline points="815.3,234.3 820.5,253.0 825.6,283.9 830.8,279.8 835.9,279.9 841.0,327.4 846.2,316.6 851.3,322.8 856.5,315.1 861.6,342.9 866.8,385.0 871.9,421.7 877.0,423.3 882.2,386.0 887.3,360.0 892.5,355.8 897.6,350.0 902.8,380.5 907.9,373.6 913.0,413.0 918.2,440.0 923.3,460.0 928.5,480.0 933.6,490.0" stroke="#f0f" stroke-width="1.0"/>
<polyline points="835.9,279.9 841.0,286.6 846.2,305.0 851.3,276.3 856.5,296.2 861.6,334.6 866.8,360.0 871.9,385.0 877.0,400.0 882.2,380.0 887.3,390.0 892.5,361.0 897.6,343.5 902.8,337.3 907.9,361.3 913.0,349.0 918.2,410.0 923.3,377.7 928.5,328.4 933.6,358.6 938.8,387.3 943.9,413.0 949.0,440.0 954.2,450.0" stroke="#f0f" stroke-width="1.0"/>
<polyline points="856.5,453.7 861.6,447.4 866.8,451.1 871.9,404.4 877.0,385.0 882.2,403.6 887.3,421.6 892.5,434.0 897.6,458.4 902.8,469.5 907.9,450.0 913.0,480.0 918.2,460.0 923.3,495.0 928.5,470.0 933.6,482.6 938.8,500.0 943.9,490.0 949.0,510.0 954.2,500.0 959.3,520.0 964.5,510.0 969.6,530.0 974.8,535.0" stroke="#f0f" stroke-width="1.0"/>
<polyline points="877.0,441.3 882.2,496.0 887.3,420.7 892.5,434.4 897.6,407.4 902.8,440.0 907.9,415.0 913.0,450.0 918.2,430.0 923.3,470.0 928.5,450.0 933.6,485.0 938.8,470.0 943.9,500.0 949.0,490.0 954.2,520.0 959.3,510.0 964.5,530.0 969.6,520.0 974.8,540.0 979.9,550.0 985.0,560.0 990.2,570.0 995.3,575.0" stroke="#f0f" stroke-width="1.0"/>
<polyline points="897.6,474.6 902.8,500.0 907.9,480.0 913.0,510.0 918.2,544.3 923.3,534.7 928.5,531.3 933.6,482.6 938.8,500.0 943.9,520.0 949.0,510.0 954.2,530.0 959.3,540.0 964.5,530.0 969.6,550.0 974.8,540.0 979.9,560.0 985.0,550.0 990.2,570.0 995.3,560.0 1000.5,580.0 1005.6,575.0 1010.8,617.8 1015.9,674.4" stroke="#f0f" stroke-width="1.0"/>
<polyline points="918.2,519.4 923.3,508.7 928.5,506.6 933.6,498.4 938.8,520.0 943.9,540.0 949.0,550.0 954.2,560.0 959.3,600.2 964.5,615.3 969.6,597.7 974.8,586.4 979.9,700.8 985.0,760.4 990.2,700.8 995.3,653.0 1000.5,634.2 1005.6,585.0 1010.8,600.0 1015.9,597.7 1021.0,645.5 1026.2,633.0 1031.3,590.0 1036.5,600.0" stroke="#f0f" stroke-width="1.0"/>
<polyline points="938.8,422.2 943.9,440.0 949.0,460.0 954.2,450.0 959.3,480.0 964.5,470.0 969.6,500.0 974.8,520.0 979.9,510.0 985.0,540.0 990.2,560.0 995.3,550.0 1000.5,570.0 1005.6,590.0 1010.8,580.0 1015.9,597.7 1021.0,645.5 1026.2,633.0 1031.3,590.0 1036.5,656.8 1041.6,601.5 1046.8,636.7 1051.9,606.5 1057.0,648.0" stroke="#f0f" stroke-width="1.0"/>
<polyline points="959.3,493.3 964.5,509.0 969.6,511.0 974.8,508.3 979.9,508.0 985.0,474.4 990.2,482.0 995.3,520.3 1000.5,540.0 1005.6,560.0 1010.8,550.0 1015.9,570.0 1021.0,590.0 1026.2,580.0 1031.3,569.7 1036.5,547.7 1041.6,519.0 1046.8,553.2 1051.9,539.5 1057.0,533.3 1062.2,550.0" stroke="#f0f" stroke-width="1.0"/>
<polyline points="979.9,535.4 985.0,560.0 990.2,590.0 995.3,570.0 1000.5,600.0 1005.6,580.0 1010.8,610.0 1015.9,590.0 1021.0,620.0 1026.2,600.0 1031.3,580.0 1036.5,477.8 1041.6,482.0 1046.8,479.2 1051.9,471.7 1057.0,495.0 1062.2,500.0" stroke="#f0f" stroke-width="1.0"/>
<polyline points="1000.5,504.0 1005.6,478.7 1010.8,457.6 1015.9,452.0 1021.0,446.7 1026.2,408.7 1031.3,410.3 1036.5,417.2 1041.6,451.5 1046.8,483.3 1051.9,505.0 1057.0,494.0 1062.2,500.0" stroke="#f0f" stroke-width="1.0"/>
<polyline points="1021.0,479.1 1026.2,480.0 1031.3,416.0 1036.5,413.0 1041.6,409.6 1046.8,379.5 1051.9,373.3 1057.0,432.0 1062.2,440.0" stroke="#f0f" stroke-width="1.0"/>
<polyline points="1041.6,456.4 1046.8,443.2 1051.9,456.3 1057.0,418.5 1062.2,415.0" stroke="#f0f" stroke-width="1.0"/>
</g>
<g clip-path="url(#c)" fill="#f0f">
<circle cx="465.6" cy="425.8" r="7.25"/>
<circle cx="506.7" cy="522.6" r="7.25"/>
<circle cx="527.3" cy="264.9" r="7.25"/>
<circle cx="547.9" cy="384.6" r="7.25"/>
<circle cx="568.5" cy="448.5" r="7.25"/>
<circle cx="589.0" cy="480.0" r="7.25"/>
<circle cx="609.6" cy="578.5" r="7.25"/>
<circle cx="630.2" cy="554.0" r="7.25"/>
<circle cx="650.7" cy="561.5" r="7.25"/>
<circle cx="671.3" cy="651.3" r="7.25"/>
<circle cx="691.9" cy="700.1" r="7.25"/>
<circle cx="712.5" cy="573.9" r="7.25"/>
<circle cx="733.0" cy="374.6" r="7.25"/>
<circle cx="753.6" cy="394.5" r="7.25"/>
<circle cx="774.2" cy="333.6" r="7.25"/>
<circle cx="794.8" cy="257.0" r="7.25"/>
<circle cx="815.3" cy="234.3" r="7.25"/>
<circle cx="835.9" cy="279.9" r="7.25"/>
<circle cx="856.5" cy="453.7" r="7.25"/>
<circle cx="877.0" cy="441.3" r="7.25"/>
<circle cx="897.6" cy="474.6" r="7.25"/>
<circle cx="918.2" cy="519.4" r="7.25"/>
<circle cx="938.8" cy="422.2" r="7.25"/>
<circle cx="959.3" cy="493.3" r="7.25"/>
<circle cx="979.9" cy="535.4" r="7.25"/>
<circle cx="1000.5" cy="504.0" r="7.25"/>
<circle cx="1021.0" cy="479.1" r="7.25"/>
<circle cx="1041.6" cy="456.4" r="7.25"/>
</g>
<g stroke="#262626" stroke-width="1" fill="none" shape-rendering="crispEdges">
<rect x="152.5" y="64.5" width="904.0" height="715.0"/>
<path d="M193.5,779.5v-9M193.5,64.5v9M234.5,779.5v-9M234.5,64.5v9M275.5,779.5v-9M275.5,64.5v9M316.5,779.5v-9M316.5,64.5v9M357.5,779.5v-9M357.5,64.5v9M399.5,779.5v-9M399.5,64.5v9M440.5,779.5v-9M440.5,64.5v9M481.5,779.5v-9M481.5,64.5v9M522.5,779.5v-9M522.5,64.5v9M563.5,779.5v-9M563.5,64.5v9M604.5,779.5v-9M604.5,64.5v9M645.5,779.5v-9M645.5,64.5v9M686.5,779.5v-9M686.5,64.5v9M727.5,779.5v-9M727.5,64.5v9M768.5,779.5v-9M768.5,64.5v9M809.5,779.5v-9M809.5,64.5v9M851.5,779.5v-9M851.5,64.5v9M892.5,779.5v-9M892.5,64.5v9M933.5,779.5v-9M933.5,64.5v9M974.5,779.5v-9M974.5,64.5v9M1015.5,779.5v-9M1015.5,64.5v9M152.5,695.5h9M1056.5,695.5h-9M152.5,611.5h9M1056.5,611.5h-9M152.5,527.5h9M1056.5,527.5h-9M152.5,443.5h9M1056.5,443.5h-9M152.5,358.5h9M1056.5,358.5h-9M152.5,274.5h9M1056.5,274.5h-9M152.5,190.5h9M1056.5,190.5h-9M152.5,106.5h9M1056.5,106.5h-9"/>
</g>
<rect x="860.5" y="81.5" width="167" height="58" fill="#fff" stroke="#262626" stroke-width="1" shape-rendering="crispEdges"/>
<path d="M868.5,97.5H931.5" stroke="#000" stroke-width="1"/>
<path d="M868.5,123.5H931.5" stroke="#f0f" stroke-width="1"/>
</svg>
<div class="t title">NDBC 51000 vs GFS Winds: 7 to 10 day forecast</div>
<div class="t yt" style="top:768.3px">0</div>
<div class="t yt" style="top:684.2px">2</div>
<div class="t yt" style="top:600.1px">4</div>
<div class="t yt" style="top:515.9px">6</div>
<div class="t yt" style="top:431.8px">8</div>
<div class="t yt" style="top:347.7px">10</div>
<div class="t yt" style="top:263.6px">12</div>
<div class="t yt" style="top:179.5px">14</div>
<div class="t yt" style="top:95.4px">16</div>
<div class="t xt" style="left:143.3px;top:785.3px">12/08</div>
<div class="t xt" style="left:184.4px;top:785.3px">12/09</div>
<div class="t xt" style="left:225.5px;top:785.3px">12/10</div>
<div class="t xt" style="left:266.6px;top:785.3px">12/11</div>
<div class="t xt" style="left:307.7px;top:785.3px">12/12</div>
<div class="t xt" style="left:348.8px;top:785.3px">12/13</div>
<div class="t xt" style="left:389.8px;top:785.3px">12/14</div>
<div class="t xt" style="left:430.9px;top:785.3px">12/15</div>
<div class="t xt" style="left:472.0px;top:785.3px">12/16</div>
<div class="t xt" style="left:513.1px;top:785.3px">12/17</div>
<div class="t xt" style="left:554.2px;top:785.3px">12/18</div>
<div class="t xt" style="left:595.3px;top:785.3px">12/19</div>
<div class="t xt" style="left:636.4px;top:785.3px">12/20</div>
<div class="t xt" style="left:677.5px;top:785.3px">12/21</div>
<div class="t xt" style="left:718.6px;top:785.3px">12/22</div>
<div class="t xt" style="left:759.7px;top:785.3px">12/23</div>
<div class="t xt" style="left:800.8px;top:785.3px">12/24</div>
<div class="t xt" style="left:841.8px;top:785.3px">12/25</div>
<div class="t xt" style="left:882.9px;top:785.3px">12/26</div>
<div class="t xt" style="left:924.0px;top:785.3px">12/27</div>
<div class="t xt" style="left:965.1px;top:785.3px">12/28</div>
<div class="t xt" style="left:1006.2px;top:785.3px">12/29</div>
<div class="t xt" style="left:1047.3px;top:785.3px">12/30</div>
<div class="t yl" style="left:85.5px;top:531.5px">Wind speed, m/sec</div>
<div class="t lg" style="left:939px;top:87.5px">Buoy</div>
<div class="t lg" style="left:939px;top:113px">Forecast</div>
</body></html>
